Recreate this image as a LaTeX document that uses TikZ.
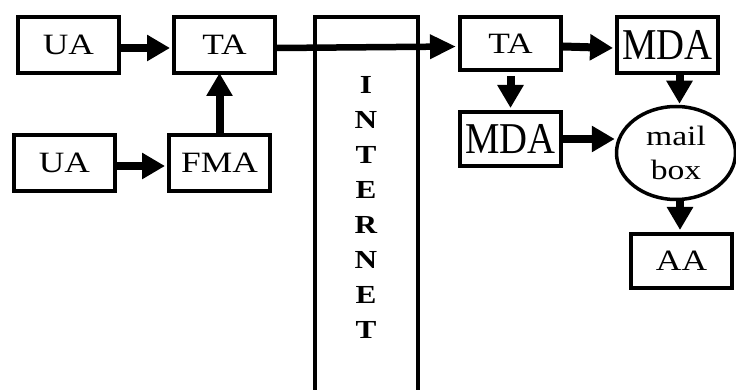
\documentclass[tikz,border=0pt]{standalone}
\usepackage{fontspec}
\setmainfont{Liberation Serif}
\newfontfamily\wf[FakeStretch=1.2]{Liberation Serif}
\newfontfamily\nf[FakeStretch=0.88]{Liberation Serif}
\usetikzlibrary{arrows.meta,shapes.geometric}
\begin{document}
\begin{tikzpicture}[x=1pt,y=-1pt,
  box/.style={draw,line width=4pt,inner sep=0pt,minimum width=101pt,minimum height=56pt,font=\wf\fontsize{29.5}{32}\selectfont},
  mbox/.style={box,font=\nf\fontsize{44}{46}\selectfont},
  arr/.style={line width=8pt,-{Triangle[length=23pt,width=25pt]}},
  thin arr/.style={line width=6.5pt,-{Triangle[length=26pt,width=23pt]}}]
\useasboundingbox (0,0) rectangle (736,390);
% internet column
\draw[line width=4pt] (315,392) coordinate (il) -- (315,17) -- (418,17) -- (418,392) coordinate (ir);
\node[font=\wf\bfseries\fontsize{26}{35}\selectfont,align=center,inner sep=0pt] (inet) at (366,207.5) {I\\N\\T\\E\\R\\N\\E\\T};
% nodes
\node[box] (ua1) at (68.5,45) {UA};
\node[box] (ta1) at (224.5,45) {TA};
\node[box] (ua2) at (64.5,163) {UA};
\node[box] (fma) at (219.5,163) {FMA};
\node[box,minimum height=53pt] (ta2) at (510.5,43.5) {TA};
\node[mbox] (mda1) at (667.5,45) {MDA};
\node[mbox,minimum height=54pt] (mda2) at (510.5,139) {MDA};
\node[box,minimum height=54pt] (aa) at (681.5,261) {AA};
\node[draw,ellipse,line width=3.5pt,minimum width=119pt,minimum height=93pt,inner sep=0pt,align=center,font=\wf\fontsize{28}{34}\selectfont] (mb) at (676,153) {mail\\box};
% connectors
\draw[arr] ([yshift=-3pt]ua1.east) -- ([yshift=-3pt,xshift=-2pt]ta1.west);
\draw[arr] ([yshift=-3pt]ua2.east) -- ([yshift=-3pt,xshift=-2pt]fma.west);
\draw[arr] (fma.north) -- ([yshift=2pt]fma.north |- ta1.south);
\draw[thin arr] ([yshift=-3pt]ta1.east) -- ([yshift=-3pt,xshift=-2pt]ta2.west);
\draw[arr] ([yshift=-3pt]ta2.east) -- ([yshift=-3pt,xshift=-2pt]mda1.west);
\draw[arr] ([yshift=-4pt]ta2.south) -- ([yshift=2pt]mda2.north);
\draw[arr] (mda2.east) -- (mda2.east -| mb.west);
\draw[arr] ([xshift=12pt]mda1.south) -- ([xshift=12pt,yshift=1pt]mda1.south |- mb.north);
\draw[arr] ([xshift=4pt]mb.south) -- ([xshift=-1.5pt,yshift=2pt]aa.north);
\end{tikzpicture}
\end{document}
